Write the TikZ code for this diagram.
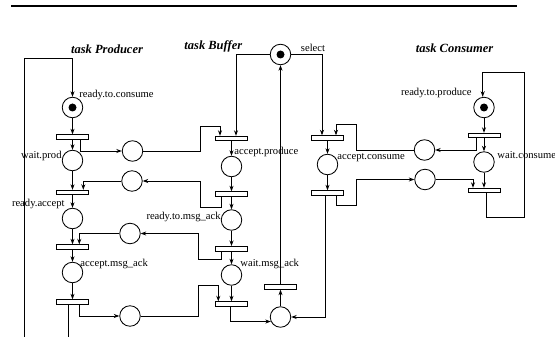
\documentclass[tikz,border=0pt]{standalone}
\usepackage{fontspec}
\setmainfont{Liberation Serif}
\usetikzlibrary{arrows.meta}
\begin{document}
\begin{tikzpicture}[x=1pt,y=-1pt,
  line width=0.85pt,
  place/.style={circle,draw,minimum size=20.5pt,inner sep=0pt},
  dot/.style={circle,fill=black,minimum size=8pt,inner sep=0pt},
  trans/.style={rectangle,draw,minimum width=32pt,minimum height=4.5pt,inner sep=0pt},
  arr/.style={-{Stealth[length=5.5pt,width=4pt]}},
  lbl/.style={font=\fontsize{10.6}{12}\selectfont,inner sep=0pt},
  ttl/.style={font=\fontsize{12.5}{14}\selectfont\bfseries\itshape,inner sep=0pt}]
\useasboundingbox (0,0) rectangle (555,337);
% top rule
\coordinate (ruleL) at (11,6.5);
\coordinate (ruleR) at (517,6.5);
\draw[line width=2pt] (ruleL) -- (ruleR);

% titles
\node[ttl] (tProd) at (107,49) {task Producer};
\node[ttl] (tBuf) at (213.3,46.7) {task Buffer};
\node[ttl] (tCons) at (454.5,48.3) {task Consumer};

% Producer
\node[place] (rtc) at (72.5,107.5) {};
\node[dot] (rtcT) at (rtc) {};
\node[trans] (tp1) at (72.5,137) {};
\node[place] (wp) at (72.5,160.5) {};
\node[trans] (tp2) at (72.5,192.5) {};
\node[place] (ra) at (72.5,218.5) {};
\node[trans] (tp3) at (72.5,247) {};
\node[place] (am) at (72.5,272.5) {};
\node[trans] (tp4) at (72.5,302) {};

% message places
\node[place] (m1) at (132.5,151) {};
\node[place] (m2) at (132,181) {};
\node[place] (m3) at (130,233.5) {};
\node[place] (m4) at (130,316) {};

% Buffer
\node[trans] (tap) at (231.5,138.5) {};
\node[place] (ap) at (231.5,166.5) {};
\node[trans] (tb2) at (231.5,194) {};
\node[place] (rm) at (231.5,220) {};
\node[trans] (tb3) at (231.5,248.7) {};
\node[place] (wm) at (231.5,275) {};
\node[trans] (tb4) at (231.5,304) {};
\node[place] (sel) at (280.5,54.5) {};
\node[dot] (selT) at (sel) {};
\node[trans] (tsel) at (280.5,287) {};
\node[place] (pb) at (280.5,317) {};

% Consumer
\node[trans] (tc1) at (327.5,138) {};
\node[place] (acp) at (327.5,164.5) {};
\node[trans] (tc2) at (327.5,193) {};
\node[place] (n1) at (424.5,150) {};
\node[place] (n2) at (425,179.5) {};
\node[place] (rtp) at (484,107.5) {};
\node[dot] (rtpT) at (rtp) {};
\node[trans] (tk1) at (484,135.5) {};
\node[place] (wc) at (484,162) {};
\node[trans] (tc3) at (484,190.5) {};

% labels
\node[lbl,anchor=west] (lrtc) at (79,95) {ready.to.consume};
\node[lbl,anchor=east] (lwp) at (62,156) {wait.prod};
\node[lbl,anchor=east] (lra) at (65,203.5) {ready.accept};
\node[lbl,anchor=west] (lam) at (80,263.5) {accept.msg\_ack};
\node[lbl] (lsel) at (313,47.5) {select};
\node[lbl,anchor=west] (lap) at (234,151.5) {accept.produce};
\node[lbl,anchor=east] (lrm) at (221,216.5) {ready.to.msg\_ack};
\node[lbl,anchor=west] (lwm) at (240,263.5) {wait.msg\_ack};
\node[lbl,anchor=west] (lacp) at (337,157.5) {accept.consume};
\node[lbl,anchor=west] (lwc) at (497,155) {wait.consume};
\node[lbl,anchor=east] (lrtp) at (472,93) {ready.to.produce};

% Producer flow
\draw[arr] (rtc) -- (tp1);
\draw[arr] (tp1) -- (wp);
\draw[arr] (wp) -- (tp2);
\draw[arr] (tp2) -- (ra);
\draw[arr] (ra) -- (tp3);
\draw[arr] (tp3) -- (am);
\draw[arr] (am) -- (tp4);
\coordinate (pout) at (68,337);
\coordinate (pin) at (24,337);
\draw ([xshift=-4.5pt]tp4.south) -- (pout);
\draw[arr] (pin) -- (24,58) -| (rtc.north);

% Producer <-> Buffer
\draw[arr] ([xshift=7.5pt]tp1.south) |- (m1);
\draw[arr] (m1.east) -| (200,126) -| ([xshift=-11.5pt]tap.north);
\draw[arr] ([xshift=-10pt]tb2.south) |- (200,207) |- (m2);
\draw[arr] (m2.west) -| ([xshift=10.8pt]tp2.north);
\draw[arr] ([xshift=-10pt]tb3.south) |- (198.3,259.3) |- (m3);
\draw[arr] (m3.west) -| ([xshift=6.8pt]tp3.north);
\draw[arr] ([xshift=6.8pt]tp4.south) |- (m4);
\draw[arr] (m4.east) -| (198.3,285.7) -| ([xshift=-13.2pt]tb4.north);

% Buffer flow
\draw[arr] (sel.west) -| ([xshift=4.5pt]tap.north);
\draw[arr] (sel.east) -| ([xshift=-5.5pt]tc1.north);
\draw[arr] (tap) -- (ap);
\draw[arr] (ap) -- (tb2);
\draw[arr] (tb2) -- (rm);
\draw[arr] (rm) -- (tb3);
\draw[arr] (tb3) -- (wm);
\draw[arr] (wm) -- (tb4);
\draw[arr] ([xshift=-1.5pt]tb4.south) |- (pb.205);
\draw[arr] ([xshift=-2.5pt]tc2.south) |- (pb.east);
\draw[arr] (pb) -- (tsel);
\draw[arr] (tsel) -- (sel);

% Consumer side
\draw[arr] (tc1) -- (acp);
\draw[arr] (acp) -- (tc2);
\draw[arr] ([xshift=-7.3pt]tk1.south) |- (n1);
\draw[arr] (n1.west) -| (356,124) -| ([xshift=8.5pt]tc1.north);
\draw[arr] ([xshift=8.5pt]tc2.south) |- (356,205) |- (n2);
\draw[arr] (n2.east) -| ([xshift=-11pt]tc3.north);
\draw[arr] (rtp) -- (tk1);
\draw[arr] (tk1) -- (wc);
\draw[arr] (wc) -- (tc3);
\draw[arr] ([xshift=2pt]tc3.south) |- (524,217.3) -- (524,72.3) -| ([xshift=-1.3pt]rtp.north);
\end{tikzpicture}
\end{document}
